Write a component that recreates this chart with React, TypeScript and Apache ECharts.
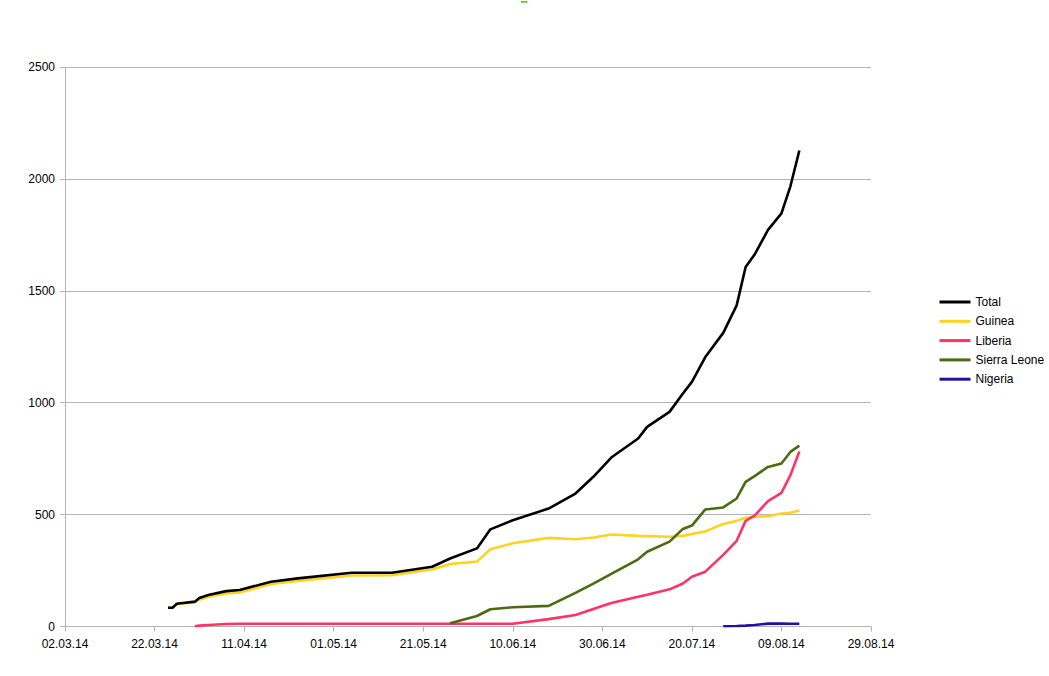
import React, { useEffect, useRef } from "react";
import * as echarts from "echarts";

const dates = [
  "25.03.14", "26.03.14", "27.03.14", "31.03.14", "01.04.14", "03.04.14", "07.04.14",
  "10.04.14", "17.04.14", "23.04.14", "05.05.14", "14.05.14", "23.05.14", "27.05.14",
  "02.06.14", "05.06.14", "10.06.14", "18.06.14", "24.06.14", "28.06.14", "02.07.14",
  "08.07.14", "10.07.14", "15.07.14", "18.07.14", "20.07.14", "23.07.14", "27.07.14",
  "30.07.14", "01.08.14", "03.08.14", "06.08.14", "09.08.14", "11.08.14", "13.08.14",
];

const total = [
  84, 84, 102, 111, 127, 141, 158, 163, 200, 215, 240, 240, 267, 304, 349, 434, 475, 527,
  594, 669, 755, 840, 892, 959, 1041, 1093, 1204, 1312, 1435, 1606, 1662, 1772, 1846, 1967, 2127,
];
const guinea = [
  84, 84, 102, 108, 120, 133, 148, 152, 190, 204, 228, 229, 255, 279, 290, 345, 372, 396,
  390, 398, 411, 405, 404, 401, 405, 413, 425, 458, 472, 486, 490, 493, 505, 508, 518,
];
const liberia = [
  null, null, null, 1, 4, 7, 11, 12, 12, 12, 12, 12, 12, 12, 12, 12, 12, 33, 51, 78, 105,
  133, 142, 166, 192, 222, 245, 320, 383, 472, 495, 560, 597, 676, 782,
];
const sierraLeone = [
  null, null, null, null, null, null, null, null, null, null, null, null, null, 14, 47, 77,
  86, 92, 150, 192, 235, 300, 334, 379, 436, 451, 523, 532, 572, 646, 672, 713, 728, 780, 808,
];
const nigeria = [
  null, null, null, null, null, null, null, null, null, null, null, null, null, null, null,
  null, null, null, null, null, null, null, null, null, null, null, null, 1, 2, 4, 7, 13, 13, 12, 12,
];

const seriesNames = ["Total", "Guinea", "Liberia", "Sierra Leone", "Nigeria"];
const seriesColors = ["#000000", "#ffd320", "#ff3366", "#4a6b12", "#26109a"];

const DAY = 86400000;
const ORIGIN = Date.UTC(2014, 2, 2);

function dayOf(s: string): number {
  const [d, m, y] = s.split(".").map(Number);
  return Math.round((Date.UTC(2000 + y, m - 1, d) - ORIGIN) / DAY);
}
function labelOf(day: number): string {
  const t = new Date(ORIGIN + day * DAY);
  const dd = String(t.getUTCDate()).padStart(2, "0");
  const mm = String(t.getUTCMonth() + 1).padStart(2, "0");
  const yy = String(t.getUTCFullYear() % 100).padStart(2, "0");
  return `${dd}.${mm}.${yy}`;
}
function toPairs(vals: (number | null)[]) {
  const out: [number, number][] = [];
  vals.forEach((v, i) => {
    if (v != null) out.push([dayOf(dates[i]), v]);
  });
  return out;
}

export default function App() {
  const ref = useRef<HTMLDivElement>(null);
  useEffect(() => {
    if (!ref.current) return;
    const chart = echarts.init(ref.current, undefined, { renderer: "svg" });
    const font = "'Liberation Sans', Arial, sans-serif";
    const allVals = [total, guinea, liberia, sierraLeone, nigeria];
    chart.setOption({
      animation: false,
      backgroundColor: "#ffffff",
      textStyle: { fontFamily: font },
      grid: { left: 65, right: 178, top: 67, bottom: 49.5, containLabel: false },
      graphic: [
        {
          type: "rect",
          left: 521,
          top: 1,
          shape: { width: 6.5, height: 1.8 },
          style: { fill: "#66cc22" },
        },
      ],
      legend: {
        orient: "vertical",
        left: 939.5,
        top: 295,
        padding: 0,
        icon: "rect",
        itemWidth: 31,
        itemHeight: 3,
        itemGap: 5.3,
        data: seriesNames,
        textStyle: { fontFamily: font, fontSize: 12, color: "#000", lineHeight: 14 },
      },
      xAxis: {
        type: "value",
        min: 0,
        max: 180,
        interval: 20,
        axisLine: { show: true, lineStyle: { color: "#b3b3b3", width: 1 } },
        axisTick: { show: true, length: 5, lineStyle: { color: "#b3b3b3" } },
        splitLine: { show: false },
        axisLabel: {
          formatter: (v: number) => labelOf(v),
          fontFamily: font,
          fontSize: 12,
          color: "#000",
          margin: 11,
        },
      },
      yAxis: {
        type: "value",
        min: 0,
        max: 2500,
        interval: 500,
        axisLine: { show: true, lineStyle: { color: "#b3b3b3", width: 1 } },
        axisTick: { show: true, length: 5, lineStyle: { color: "#b3b3b3" } },
        splitLine: { show: true, lineStyle: { color: "#b3b3b3", width: 1 } },
        axisLabel: {
          formatter: (v: number) => String(v),
          fontFamily: font,
          fontSize: 12,
          color: "#000",
          margin: 10,
        },
      },
      series: seriesNames.map((name, i) => ({
        name,
        type: "line",
        data: toPairs(allVals[i]),
        symbol: "none",
        showSymbol: false,
        z: i === 0 ? 5 : 2,
        color: seriesColors[i],
        lineStyle: { color: seriesColors[i], width: 2.6 },
      })),
    });
    return () => chart.dispose();
  }, []);
  return (
    <div
      ref={ref}
      style={{ position: "fixed", left: 0, top: 0, width: 1049, height: 676, background: "#fff" }}
    />
  );
}
